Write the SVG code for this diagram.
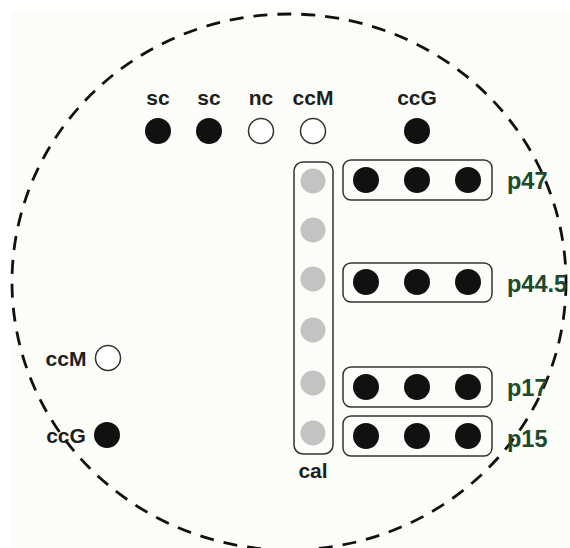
<svg xmlns="http://www.w3.org/2000/svg" width="570" height="548" viewBox="0 0 570 548">
<style>
.lbl{font-family:"Liberation Sans",Arial,sans-serif;font-weight:bold;font-size:21px;fill:#1e1e1e;text-anchor:middle}
.pl{font-family:"Liberation Sans",Arial,sans-serif;font-weight:bold;font-size:23.5px;fill:#1b4b2c}
.blk{fill:#111}
.open{fill:#fff;stroke:#333;stroke-width:1.5}
.gray{fill:#c3c3c3}
.box{fill:none;stroke:#333;stroke-width:1.5}
</style>
<rect x="0" y="0" width="570" height="548" fill="#fff"/>
<rect x="10" y="10" width="560" height="538" fill="#fcfcf8"/>
<g id="dish">
<ellipse cx="289" cy="282" rx="277" ry="268" fill="none" stroke="#111" stroke-width="2.8" stroke-dasharray="14 10"/>
</g>
<g id="top-sc1"><text class="lbl" x="158" y="105">sc</text><circle class="blk" cx="158" cy="131" r="13"/></g>
<g id="top-sc2"><text class="lbl" x="209" y="105">sc</text><circle class="blk" cx="209" cy="131" r="13"/></g>
<g id="top-nc"><text class="lbl" x="261" y="105">nc</text><circle class="open" cx="261" cy="131" r="12.5"/></g>
<g id="top-ccM"><text class="lbl" x="313" y="105">ccM</text><circle class="open" cx="313" cy="131" r="12.5"/></g>
<g id="top-ccG"><text class="lbl" x="417" y="105">ccG</text><circle class="blk" cx="417" cy="131" r="13"/></g>
<g id="left-ccM"><text class="lbl" x="66" y="366">ccM</text><circle class="open" cx="108" cy="358" r="12.5"/></g>
<g id="left-ccG"><text class="lbl" x="66" y="443">ccG</text><circle class="blk" cx="107" cy="435" r="13"/></g>
<g id="cal">
<rect class="box" x="294" y="162" width="39" height="292" rx="9"/>
<circle class="gray" cx="313" cy="181" r="12.5"/>
<circle class="gray" cx="313" cy="230" r="12.5"/>
<circle class="gray" cx="313" cy="279" r="12.5"/>
<circle class="gray" cx="313" cy="330" r="12.5"/>
<circle class="gray" cx="313" cy="383" r="12.5"/>
<circle class="gray" cx="313" cy="433" r="12.5"/>
<text class="lbl" x="313" y="478">cal</text>
</g>
<g id="p47">
<rect class="box" x="343" y="160" width="149" height="40" rx="8"/>
<circle class="blk" cx="366" cy="180" r="13"/><circle class="blk" cx="417" cy="180" r="13"/><circle class="blk" cx="468" cy="180" r="13"/>
<text class="pl" x="507" y="189">p47</text>
</g>
<g id="p44.5">
<rect class="box" x="343" y="263" width="149" height="39" rx="8"/>
<circle class="blk" cx="366" cy="282" r="13"/><circle class="blk" cx="417" cy="282" r="13"/><circle class="blk" cx="468" cy="282" r="13"/>
<text class="pl" x="507" y="292">p44.5</text>
</g>
<g id="p17">
<rect class="box" x="343" y="367" width="149" height="40" rx="8"/>
<circle class="blk" cx="366" cy="387" r="13"/><circle class="blk" cx="417" cy="387" r="13"/><circle class="blk" cx="468" cy="387" r="13"/>
<text class="pl" x="507" y="396">p17</text>
</g>
<g id="p15">
<rect class="box" x="343" y="416" width="149" height="40" rx="8"/>
<circle class="blk" cx="366" cy="436" r="13"/><circle class="blk" cx="417" cy="436" r="13"/><circle class="blk" cx="468" cy="436" r="13"/>
<text class="pl" x="507" y="447">p15</text>
</g>
<g id="connectors"/>
</svg>
